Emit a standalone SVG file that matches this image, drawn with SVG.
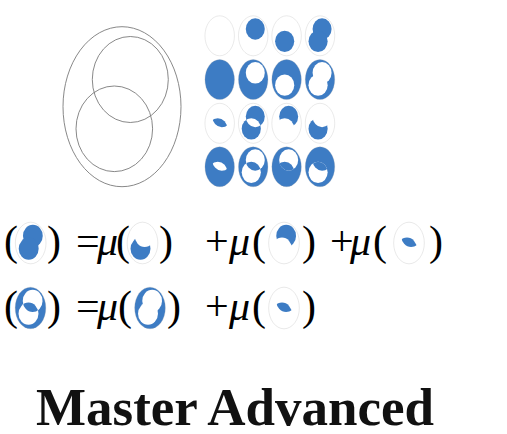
<svg xmlns="http://www.w3.org/2000/svg" xmlns:xlink="http://www.w3.org/1999/xlink" width="507" height="434" viewBox="0 0 507 434">
<style>
.b{fill:#3d7cc4}
.w{fill:#fff}
.o{fill:none;stroke:#a8a8a8;stroke-width:1;vector-effect:non-scaling-stroke}
.big{fill:none;stroke:#7a7a7a;stroke-width:0.9}
.t{font-family:"Liberation Serif","Times New Roman",serif;font-size:42px;fill:#000}
.mu{font-style:italic}
.title{font-family:"Liberation Serif","Times New Roman",serif;font-size:53px;font-weight:bold;fill:#111}
</style>
<defs>
<ellipse id="U" cx="0" cy="0" rx="59" ry="80"/>
<ellipse id="A" cx="8.3" cy="-27.2" rx="38" ry="43"/>
<ellipse id="B" cx="-7.7" cy="22.1" rx="38.3" ry="42.8"/>
<clipPath id="cB"><use xlink:href="#B"/></clipPath>
</defs>

<g id="venn">
<ellipse class="big" cx="122" cy="106.7" rx="59" ry="80"/>
<ellipse class="big" cx="130.3" cy="79.5" rx="38" ry="43"/>
<ellipse class="big" cx="114.3" cy="128.8" rx="38.3" ry="42.8"/>
</g>

<g id="grid">
<g id="r1c1" transform="translate(219.7,35.8) scale(0.25)"><use xlink:href="#U" class="o"/></g>
<g id="r1c2" transform="translate(253.2,35.8) scale(0.25)"><use xlink:href="#A" class="b"/><use xlink:href="#U" class="o"/></g>
<g id="r1c3" transform="translate(286.6,35.8) scale(0.25)"><use xlink:href="#B" class="b"/><use xlink:href="#U" class="o"/></g>
<g id="r1c4" transform="translate(320,35.8) scale(0.25)"><use xlink:href="#A" class="b"/><use xlink:href="#B" class="b"/><use xlink:href="#U" class="o"/></g>
<g id="r2c1" transform="translate(219.7,79.6) scale(0.25)"><use xlink:href="#U" class="b"/><use xlink:href="#U" class="o"/></g>
<g id="r2c2" transform="translate(253.2,79.6) scale(0.25)"><use xlink:href="#U" class="b"/><use xlink:href="#A" class="w"/><use xlink:href="#U" class="o"/></g>
<g id="r2c3" transform="translate(286.6,79.6) scale(0.25)"><use xlink:href="#U" class="b"/><use xlink:href="#B" class="w"/><use xlink:href="#U" class="o"/></g>
<g id="r2c4" transform="translate(320,79.6) scale(0.25)"><use xlink:href="#U" class="b"/><use xlink:href="#A" class="w"/><use xlink:href="#B" class="w"/><use xlink:href="#U" class="o"/></g>
<g id="r3c1" transform="translate(219.7,123.3) scale(0.25)"><use xlink:href="#A" class="b" clip-path="url(#cB)"/><use xlink:href="#U" class="o"/></g>
<g id="r3c2" transform="translate(253.2,123.3) scale(0.25)"><use xlink:href="#A" class="b"/><use xlink:href="#B" class="b"/><use xlink:href="#A" class="w" clip-path="url(#cB)"/><use xlink:href="#U" class="o"/></g>
<g id="r3c3" transform="translate(286.6,123.3) scale(0.25)"><use xlink:href="#A" class="b"/><use xlink:href="#B" class="w"/><use xlink:href="#U" class="o"/></g>
<g id="r3c4" transform="translate(320,123.3) scale(0.25)"><use xlink:href="#B" class="b"/><use xlink:href="#A" class="w"/><use xlink:href="#U" class="o"/></g>
<g id="r4c1" transform="translate(219.7,166.8) scale(0.25)"><use xlink:href="#U" class="b"/><use xlink:href="#A" class="w" clip-path="url(#cB)"/><use xlink:href="#U" class="o"/></g>
<g id="r4c2" transform="translate(253.2,166.8) scale(0.25)"><use xlink:href="#U" class="b"/><use xlink:href="#A" class="w"/><use xlink:href="#B" class="w"/><use xlink:href="#A" class="b" clip-path="url(#cB)"/><use xlink:href="#U" class="o"/></g>
<g id="r4c3" transform="translate(286.6,166.8) scale(0.25)"><use xlink:href="#U" class="b"/><use xlink:href="#A" class="w"/><use xlink:href="#A" class="b" clip-path="url(#cB)"/><use xlink:href="#U" class="o"/></g>
<g id="r4c4" transform="translate(320,166.8) scale(0.25)"><use xlink:href="#U" class="b"/><use xlink:href="#B" class="w"/><use xlink:href="#A" class="b" clip-path="url(#cB)"/><use xlink:href="#U" class="o"/></g>
</g>

<g id="eq1">
<text class="t" y="255"><tspan x="4">(</tspan><tspan x="47">)</tspan><tspan x="76">=</tspan><tspan x="97" class="mu">μ</tspan><tspan x="116">(</tspan><tspan x="159">)</tspan><tspan x="205">+</tspan><tspan x="229" class="mu">μ</tspan><tspan x="252">(</tspan><tspan x="302">)</tspan><tspan x="330">+</tspan><tspan x="350" class="mu">μ</tspan><tspan x="373">(</tspan><tspan x="429">)</tspan></text>
<g id="e1m1" transform="translate(30.7,243) scale(0.26)"><use xlink:href="#A" class="b"/><use xlink:href="#B" class="b"/><use xlink:href="#U" class="o"/></g>
<g id="e1m2" transform="translate(142.5,243) scale(0.26)"><use xlink:href="#B" class="b"/><use xlink:href="#A" class="w"/><use xlink:href="#U" class="o"/></g>
<g id="e1m3" transform="translate(284,243) scale(0.26)"><use xlink:href="#A" class="b"/><use xlink:href="#B" class="w"/><use xlink:href="#U" class="o"/></g>
<g id="e1m4" transform="translate(409,243) scale(0.26)"><use xlink:href="#A" class="b" clip-path="url(#cB)"/><use xlink:href="#U" class="o"/></g>
</g>

<g id="eq2">
<text class="t" y="320"><tspan x="4">(</tspan><tspan x="47">)</tspan><tspan x="76">=</tspan><tspan x="97" class="mu">μ</tspan><tspan x="118">(</tspan><tspan x="167">)</tspan><tspan x="205">+</tspan><tspan x="229" class="mu">μ</tspan><tspan x="252">(</tspan><tspan x="302">)</tspan></text>
<g id="e2m1" transform="translate(30.5,308) scale(0.26)"><use xlink:href="#U" class="b"/><use xlink:href="#A" class="w"/><use xlink:href="#B" class="w"/><use xlink:href="#A" class="b" clip-path="url(#cB)"/><use xlink:href="#U" class="o"/></g>
<g id="e2m2" transform="translate(150,308) scale(0.26)"><use xlink:href="#U" class="b"/><use xlink:href="#A" class="w"/><use xlink:href="#B" class="w"/><use xlink:href="#U" class="o"/></g>
<g id="e2m3" transform="translate(284,308) scale(0.26)"><use xlink:href="#A" class="b" clip-path="url(#cB)"/><use xlink:href="#U" class="o"/></g>
</g>

<text id="title" class="title" x="36" y="425">Master Advanced</text>
</svg>
